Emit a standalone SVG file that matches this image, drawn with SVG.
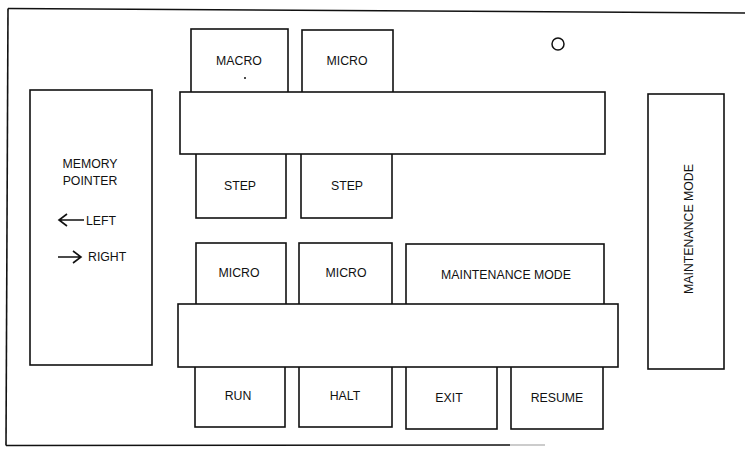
<svg xmlns="http://www.w3.org/2000/svg" width="746" height="449" viewBox="0 0 746 449">
<style>
.box{fill:#fff;stroke:#111;stroke-width:1.6}
.ln{stroke:#111;stroke-width:1.6;fill:none}
.t{font-family:"Liberation Sans",Arial,sans-serif;font-size:12.3px;fill:#111;text-anchor:middle}
.ts{font-family:"Liberation Sans",Arial,sans-serif;font-size:12.3px;fill:#111}
</style>
<rect width="746" height="449" fill="#fff"/>
<g id="frame">
<line class="ln" x1="8" y1="8.5" x2="745" y2="13"/>
<line class="ln" x1="8" y1="8.5" x2="6" y2="445.5"/>
<line class="ln" x1="6" y1="445.5" x2="510" y2="445"/>
<line x1="510" y1="445" x2="545" y2="445" stroke="#999" stroke-width="1.2"/>
</g>
<g id="memory-pointer">
<rect class="box" x="30" y="90" width="122" height="275"/>
<text class="t" x="90" y="168">MEMORY</text>
<text class="t" x="90" y="185">POINTER</text>
<path class="ln" d="M84 220 H59 M67 214 L59 220 L67 226" stroke-width="1.3"/>
<text class="ts" x="86" y="225">LEFT</text>
<path class="ln" d="M58 257 H81 M73 251 L81 257 L73 263" stroke-width="1.3"/>
<text class="ts" x="88" y="261">RIGHT</text>
</g>
<g id="macro-step-top">
<rect class="box" x="191" y="29" width="97" height="70"/>
<text class="t" x="239" y="65">MACRO</text>
<circle cx="245" cy="78" r="1" fill="#111"/>
</g>
<g id="micro-step-top">
<rect class="box" x="302" y="30" width="91" height="70"/>
<text class="t" x="347" y="65">MICRO</text>
</g>
<g id="step-1">
<rect class="box" x="196" y="146" width="90" height="72"/>
<text class="t" x="240" y="190">STEP</text>
</g>
<g id="step-2">
<rect class="box" x="301" y="146" width="91" height="72"/>
<text class="t" x="347" y="190">STEP</text>
</g>
<g id="bar-1">
<rect class="box" x="180" y="92" width="425" height="62"/>
</g>
<g id="indicator">
<circle cx="558" cy="44" r="6" fill="none" stroke="#111" stroke-width="1.5"/>
</g>
<g id="maintenance-mode-switch">
<rect class="box" x="648" y="94" width="76" height="275"/>
<text class="t" transform="translate(693,229) rotate(-90)">MAINTENANCE MODE</text>
</g>
<g id="micro-run">
<rect class="box" x="196" y="243" width="90" height="66"/>
<text class="t" x="239" y="277">MICRO</text>
</g>
<g id="micro-halt">
<rect class="box" x="299" y="243" width="93" height="66"/>
<text class="t" x="346" y="277">MICRO</text>
</g>
<g id="maintenance-mode">
<rect class="box" x="406" y="244" width="198" height="66"/>
<text class="t" x="506" y="279">MAINTENANCE MODE</text>
</g>
<g id="run">
<rect class="box" x="195" y="360" width="90" height="67"/>
<text class="t" x="238" y="400">RUN</text>
</g>
<g id="halt">
<rect class="box" x="299" y="360" width="93" height="67"/>
<text class="t" x="345" y="400">HALT</text>
</g>
<g id="exit">
<rect class="box" x="406" y="360" width="91" height="69"/>
<text class="t" x="449" y="402">EXIT</text>
</g>
<g id="resume">
<rect class="box" x="511" y="360" width="92" height="69"/>
<text class="t" x="557" y="402">RESUME</text>
</g>
<g id="bar-2">
<rect class="box" x="178" y="304" width="440" height="63"/>
</g>
<g id="connectors"></g>
</svg>
